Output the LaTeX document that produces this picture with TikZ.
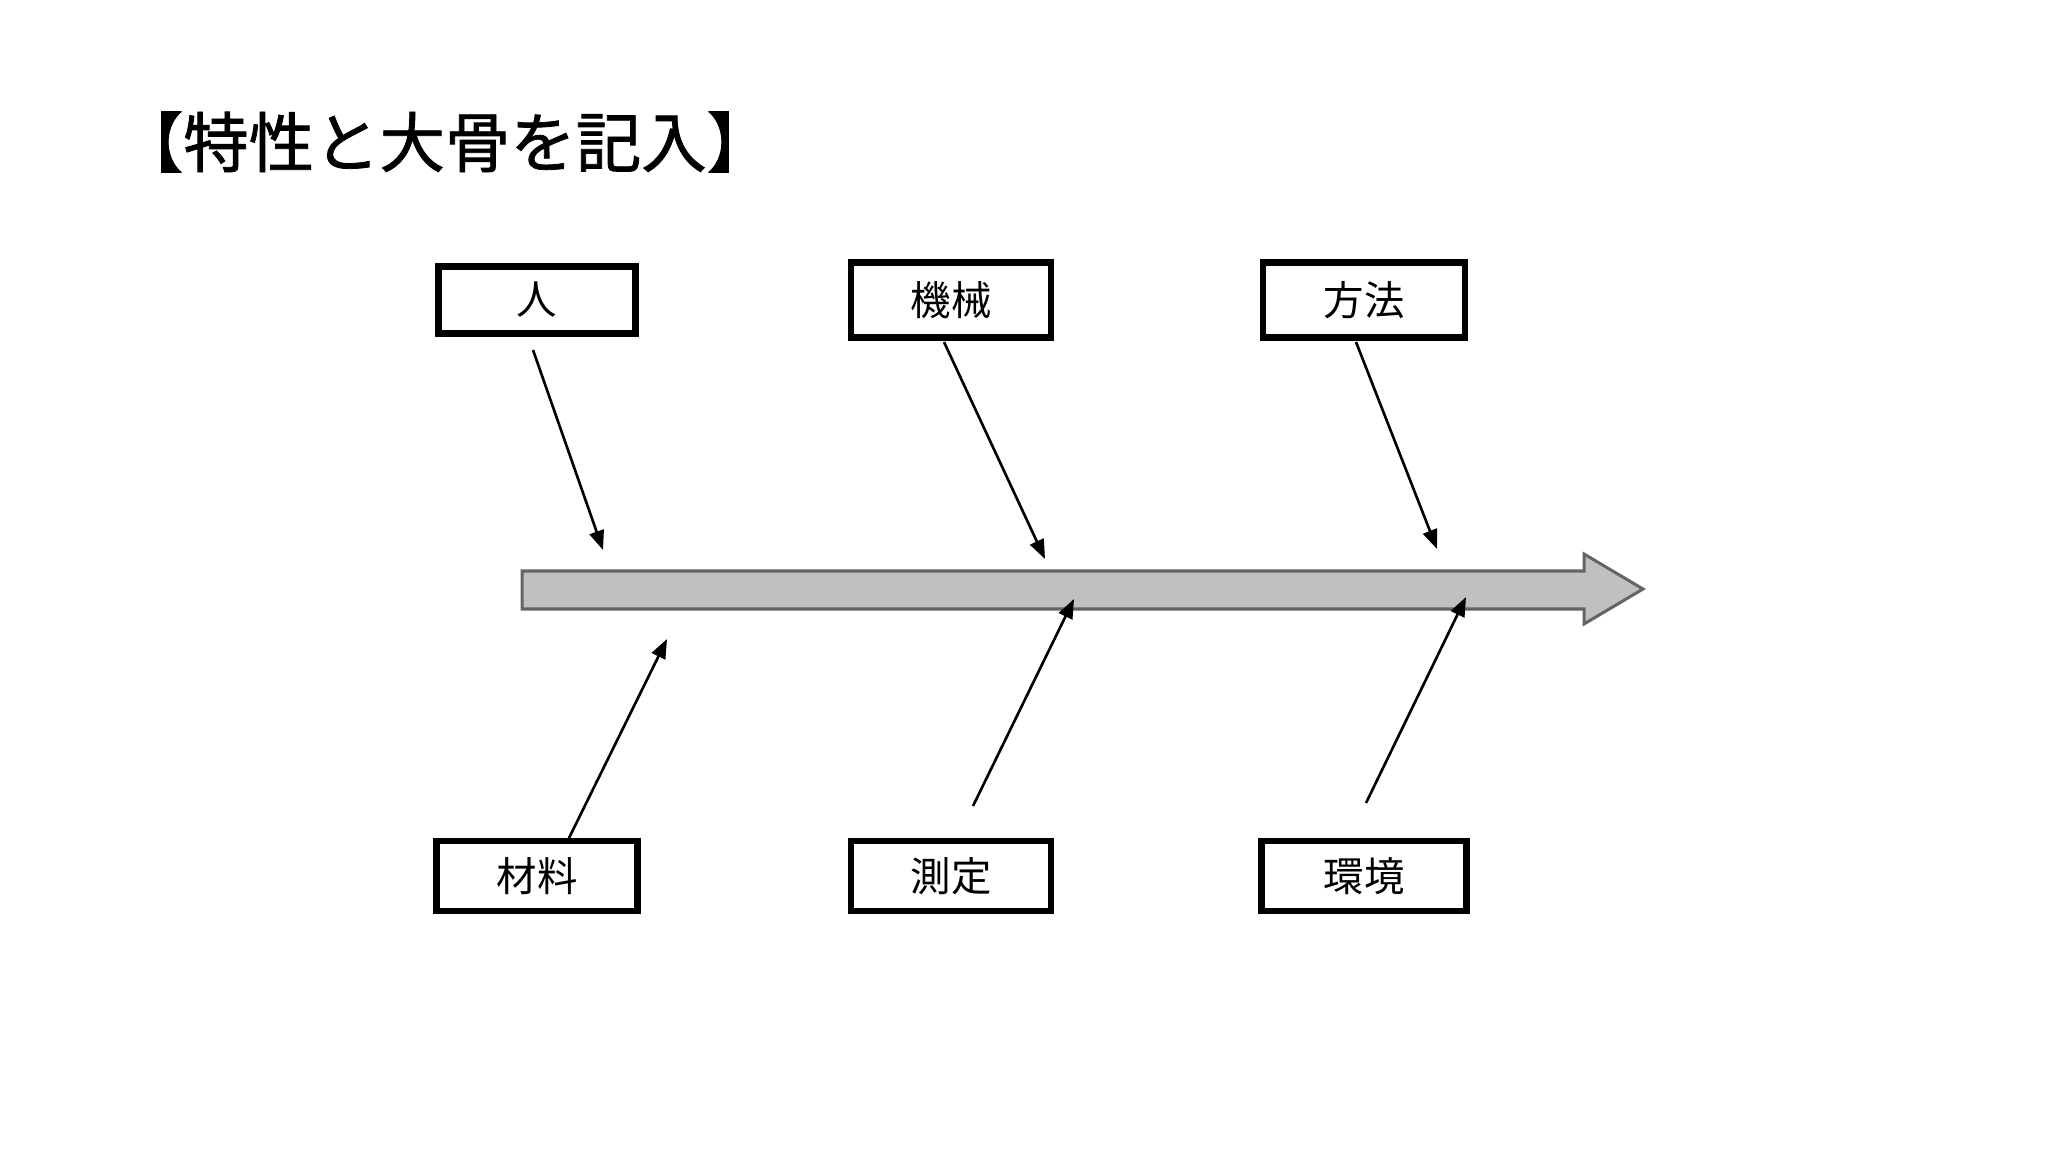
\documentclass[tikz,border=0pt]{standalone}
\usepackage{fontspec}
\newfontfamily\jpfont{Noto Sans CJK JP}
\newfontfamily\jptitle[FakeBold=1.2]{Noto Sans CJK JP}
\usetikzlibrary{arrows.meta}
\definecolor{spinefill}{RGB}{192,192,192}
\definecolor{spineline}{RGB}{100,100,100}
\begin{document}
\begin{tikzpicture}[x=0.01cm, y=-0.01cm,
    bone/.style={draw, line width=0.065cm, inner sep=0pt, font=\jpfont\fontsize{11.5}{12}\selectfont},
    rib/.style={line width=0.75pt, -{Triangle[length=5.5pt, width=4.2pt]}}]
  \fill[white] (0,0) rectangle (2048,1152);
  \useasboundingbox (0,0) rectangle (2048,1152);
  \node[font=\jptitle\fontsize{18.6}{19}\selectfont] (title) at (445,142) {【特性と大骨を記入】};
  % spine
  \draw[fill=spinefill, draw=spineline, line width=0.03cm]
    (522,571) -- (1584,571) -- (1584,554) -- (1643,589) -- (1584,624) -- (1584,609) -- (522,609) -- cycle;
  % boxes
  \node[bone, minimum width=1.97cm, minimum height=0.67cm] (hito) at (537,300) {人};
  \node[bone, minimum width=2.00cm, minimum height=0.75cm] (kikai) at (951,300) {機械};
  \node[bone, minimum width=2.02cm, minimum height=0.75cm] (houhou) at (1364,300) {方法};
  \node[bone, minimum width=2.01cm, minimum height=0.70cm] (zairyou) at (537,876) {材料};
  \node[bone, minimum width=2.00cm, minimum height=0.70cm] (sokutei) at (951,876) {測定};
  \node[bone, minimum width=2.05cm, minimum height=0.70cm] (kankyou) at (1364,876) {環境};
  % rib ends
  \coordinate (hitoS) at (533,350);    \coordinate (hitoE) at (603,550);
  \coordinate (kikaiS) at (944,342);   \coordinate (kikaiE) at (1045,559);
  \coordinate (houhouS) at (1356,342); \coordinate (houhouE) at (1437,549);
  \coordinate (zairyouS) at (569,838); \coordinate (zairyouE) at (667,639);
  \coordinate (sokuteiS) at (973,806); \coordinate (sokuteiE) at (1074,599);
  \coordinate (kankyouS) at (1366,803);\coordinate (kankyouE) at (1466,597);
  \foreach \b in {hito,kikai,houhou,zairyou,sokutei,kankyou}
    \draw[rib] (\b S) -- (\b E);
\end{tikzpicture}
\end{document}
